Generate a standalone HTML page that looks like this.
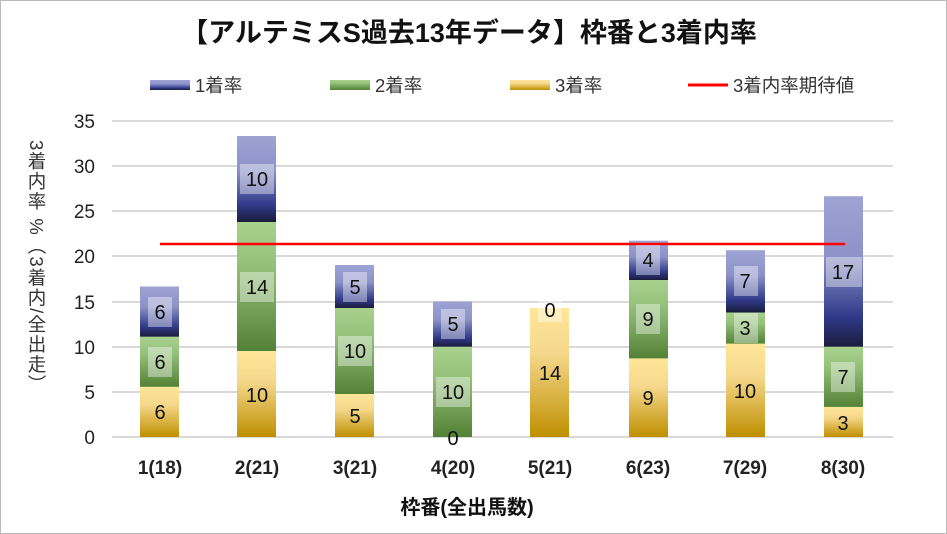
<!DOCTYPE html>
<html><head><meta charset="utf-8"><style>
body{margin:0;background:#fff}
#c{position:relative;width:947px;height:534px;overflow:hidden;font-family:"Liberation Sans","Noto Sans CJK JP",sans-serif}
#yl{position:absolute;left:23px;top:140px;height:270px;writing-mode:vertical-rl;font-size:18.5px;color:#333;letter-spacing:1.5px}
</style></head><body><div id="c">
<svg width="947" height="534" xmlns="http://www.w3.org/2000/svg" style="position:absolute;left:0;top:0">
<defs>
<linearGradient id="gb" x1="0" y1="0" x2="0" y2="1"><stop offset="0" stop-color="#9ea3d4"/><stop offset="0.4" stop-color="#8d93c8"/><stop offset="0.8" stop-color="#303a8a"/><stop offset="1" stop-color="#1a1c3c"/></linearGradient>
<linearGradient id="gg" x1="0" y1="0" x2="0" y2="1"><stop offset="0" stop-color="#a9d18e"/><stop offset="0.35" stop-color="#93c079"/><stop offset="1" stop-color="#538135"/></linearGradient>
<linearGradient id="gy" x1="0" y1="0" x2="0" y2="1"><stop offset="0" stop-color="#ffe699"/><stop offset="0.35" stop-color="#f5d88c"/><stop offset="1" stop-color="#bf8f00"/></linearGradient>
</defs>
<rect x="0.5" y="0.5" width="946" height="533" fill="#fff" stroke="#bbb"/>
<text x="469" y="42" text-anchor="middle" font-size="27" font-weight="bold" fill="#111">【アルテミスS過去13年データ】枠番と3着内率</text>
<g font-size="18.5" fill="#333">
<rect x="150" y="80" width="40" height="10" fill="url(#gb)"/><text x="195" y="92">1着率</text>
<rect x="330" y="80" width="40" height="10" fill="url(#gg)"/><text x="375" y="92">2着率</text>
<rect x="510" y="80" width="40" height="10" fill="url(#gy)"/><text x="555" y="92">3着率</text>
<line x1="688" y1="85" x2="728" y2="85" stroke="#f00" stroke-width="3"/><text x="733" y="92">3着内率期待値</text>
</g>
<g stroke="#d9d9d9" stroke-width="2">
<line x1="112" y1="121" x2="893" y2="121"/><line x1="112" y1="166" x2="893" y2="166"/><line x1="112" y1="211" x2="893" y2="211"/><line x1="112" y1="256" x2="893" y2="256"/><line x1="112" y1="302" x2="893" y2="302"/><line x1="112" y1="347" x2="893" y2="347"/><line x1="112" y1="392" x2="893" y2="392"/><line x1="112" y1="437" x2="893" y2="437"/>
</g>
<g font-size="19" fill="#222" text-anchor="end">
<text x="95" y="128">35</text><text x="95" y="173">30</text><text x="95" y="218">25</text><text x="95" y="263">20</text><text x="95" y="309">15</text><text x="95" y="354">10</text><text x="95" y="399">5</text><text x="95" y="444">0</text>
</g>
<g>
<rect x="140" y="386.8" width="39" height="50.2" fill="url(#gy)"/><rect x="140" y="336.7" width="39" height="50.1" fill="url(#gg)"/><rect x="140" y="286.5" width="39" height="50.2" fill="url(#gb)"/>
<rect x="237" y="351" width="39" height="86" fill="url(#gy)"/><rect x="237" y="222" width="39" height="129" fill="url(#gg)"/><rect x="237" y="136" width="39" height="86" fill="url(#gb)"/>
<rect x="335" y="394" width="39" height="43" fill="url(#gy)"/><rect x="335" y="308" width="39" height="86" fill="url(#gg)"/><rect x="335" y="265" width="39" height="43" fill="url(#gb)"/>
<rect x="433" y="346.7" width="39" height="90.3" fill="url(#gg)"/><rect x="433" y="301.5" width="39" height="45.2" fill="url(#gb)"/>
<rect x="530" y="308" width="39" height="129" fill="url(#gy)"/>
<rect x="629" y="358.4" width="39" height="78.6" fill="url(#gy)"/><rect x="629" y="280" width="39" height="78.4" fill="url(#gg)"/><rect x="629" y="240.7" width="39" height="39.3" fill="url(#gb)"/>
<rect x="726" y="343.6" width="39" height="93.4" fill="url(#gy)"/><rect x="726" y="312.5" width="39" height="31.1" fill="url(#gg)"/><rect x="726" y="250.2" width="39" height="62.3" fill="url(#gb)"/>
<rect x="824" y="406.9" width="39" height="30.1" fill="url(#gy)"/><rect x="824" y="346.7" width="39" height="60.2" fill="url(#gg)"/><rect x="824" y="196.2" width="39" height="150.5" fill="url(#gb)"/>
</g>
<line x1="160" y1="244" x2="845" y2="244" stroke="#f00" stroke-width="2.5"/>
<g fill="#fff" fill-opacity="0.4">
<rect x="148" y="297" width="24" height="30"/><rect x="148" y="347" width="24" height="30"/>
<rect x="240" y="164" width="34" height="30"/><rect x="240" y="272" width="34" height="30"/>
<rect x="343" y="272" width="24" height="30"/><rect x="338" y="336" width="34" height="30"/>
<rect x="441" y="309" width="24" height="30"/><rect x="436" y="377" width="34" height="30"/>
<rect x="538" y="296" width="24" height="26"/>
<rect x="636" y="245" width="24" height="30"/><rect x="636" y="304" width="24" height="30"/>
<rect x="734" y="266" width="24" height="30"/><rect x="734" y="313" width="24" height="30"/>
<rect x="826" y="257" width="36" height="30"/><rect x="831" y="362" width="24" height="30"/>
</g>
<g font-size="20" fill="#111" text-anchor="middle">
<text x="160" y="419">6</text><text x="160" y="369">6</text><text x="160" y="319">6</text>
<text x="257" y="402">10</text><text x="257" y="294">14</text><text x="257" y="186">10</text>
<text x="355" y="423">5</text><text x="355" y="358">10</text><text x="355" y="294">5</text>
<text x="453" y="445">0</text><text x="453" y="399">10</text><text x="453" y="331">5</text>
<text x="550" y="380">14</text><text x="550" y="317">0</text>
<text x="648" y="405">9</text><text x="648" y="326">9</text><text x="648" y="267">4</text>
<text x="745" y="398">10</text><text x="745" y="335">3</text><text x="745" y="288">7</text>
<text x="843" y="430">3</text><text x="843" y="384">7</text><text x="843" y="279">17</text>
</g>
<g font-size="19" font-weight="bold" fill="#222" text-anchor="middle">
<text x="160" y="474">1(18)</text><text x="257" y="474">2(21)</text><text x="355" y="474">3(21)</text><text x="453" y="474">4(20)</text><text x="550" y="474">5(21)</text><text x="648" y="474">6(23)</text><text x="745" y="474">7(29)</text><text x="843" y="474">8(30)</text>
</g>
<text x="467" y="514" text-anchor="middle" font-size="20" font-weight="bold" fill="#111">枠番(全出馬数)</text>
</svg>
<div id="yl">3着内率 %（3着内/全出走）</div>
</div></body></html>
